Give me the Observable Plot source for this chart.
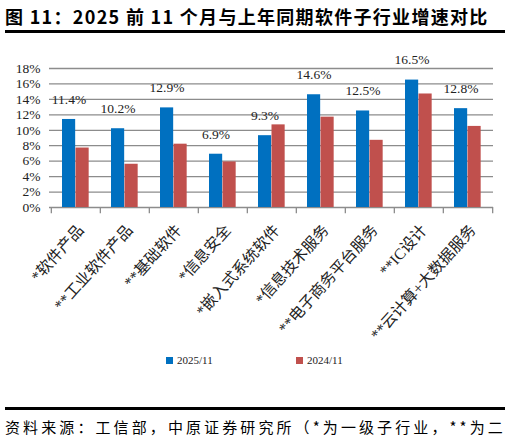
<!DOCTYPE html>
<html lang="zh">
<head>
<meta charset="UTF-8">
<script src="https://cdn.jsdelivr.net/npm/d3@7"></script>
<script src="https://cdn.jsdelivr.net/npm/@observablehq/plot@0.6"></script>
<style>
  body { margin: 0; background: #fff; width: 510px; height: 441px; overflow: hidden; }
  #titre { position: absolute; left: 5px; top: 3px; font: bold 18px "Noto Sans CJK SC", sans-serif; letter-spacing: 1.3px; color: #000; white-space: nowrap; }
  .regle { position: absolute; left: 5px; width: 500px; background: #000; }
  #graphique { position: absolute; left: 0; top: 36px; }
  #legende { position: absolute; top: 354px; left: 0; width: 510px; font: 11px "Liberation Serif", "Noto Sans CJK SC", serif; color: #222; }
  #legende span { position: absolute; white-space: nowrap; }
  #legende i { display: inline-block; width: 7px; height: 7px; margin-right: 4px; }
  #source { position: absolute; left: 5px; top: 416px; white-space: nowrap; font: 15px "Noto Sans CJK SC", sans-serif; letter-spacing: 3.1px; color: #000; }
</style>
</head>
<body>
  <div id="titre">图 11：2025 前 11 个月与上年同期软件子行业增速对比</div>
  <div class="regle" style="top:30px;height:3px"></div>
  <div id="graphique"></div>
  <div id="legende">
    <span style="left:166px"><i style="background:#0070C0"></i>2025/11</span>
    <span style="left:296px"><i style="background:#C0504D"></i>2024/11</span>
  </div>
  <div class="regle" style="top:407px;height:3px"></div>
  <div id="source">资料来源：工信部，中原证券研究所（*为一级子行业，**为二</div>
<script>
const categories = ["*软件产品", "**工业软件产品", "**基础软件", "*信息安全", "*嵌入式系统软件",
  "*信息技术服务", "**电子商务平台服务", "**IC设计", "**云计算+大数据服务"];
const croissance2025 = [11.4, 10.2, 12.9, 6.9, 9.3, 14.6, 12.5, 16.5, 12.8];
const croissance2024 = [7.7, 5.6, 8.2, 5.9, 10.7, 11.7, 8.7, 14.7, 10.5];
const yTicks = [0, 2, 4, 6, 8, 10, 12, 14, 16, 18];

const lignes = categories.map((c, i) => ({cat: c, v25: croissance2025[i], v24: croissance2024[i]}));

const largeur = 510, hauteur = 315, mg = 49, md = 17;
const bw = (largeur - mg - md) / categories.length;
const serif = "'Liberation Serif', 'Noto Sans CJK SC', serif";

const plot = Plot.plot({
  width: largeur,
  height: hauteur,
  marginLeft: mg,
  marginRight: md,
  marginTop: 32,
  marginBottom: 144,
  style: {fontFamily: serif, fontSize: "12.5px", color: "#222", background: "#fff"},
  x: {domain: categories, padding: 0, axis: null},
  y: {domain: [0, 18], axis: null},
  marks: [
    Plot.ruleY(yTicks, {stroke: "#8c8c8c", strokeWidth: 1.3}),
    Plot.ruleX([0], {frameAnchor: "left", y1: 0, y2: 18, stroke: "#8c8c8c", strokeWidth: 1.3}),
    Plot.ruleX(categories, {x: d => d, y1: 0, y2: -0.8, dx: -bw / 2, stroke: "#8c8c8c", strokeWidth: 1.3}),
    Plot.ruleX(categories.slice(-1), {x: d => d, y1: 0, y2: -0.8, dx: bw / 2, stroke: "#8c8c8c", strokeWidth: 1.3}),
    Plot.text(yTicks, {frameAnchor: "left", y: d => d, text: d => d + "%", textAnchor: "end", dx: -9, fontSize: 13.5}),
    Plot.barY(lignes, {x: "cat", y: "v25", fill: "#0070C0", insetLeft: 11, insetRight: bw - 24.5}),
    Plot.barY(lignes, {x: "cat", y: "v24", fill: "#C0504D", insetLeft: 24.5, insetRight: bw - 38}),
    Plot.text(lignes, {x: "cat", y: "v25", text: d => d.v25.toFixed(1) + "%", dx: -7, dy: -20, fontSize: 13.5, fill: "#222", letterSpacing: "1.2px"}),
    Plot.text(categories, {x: d => d, y: 0, text: d => d, rotate: -48, textAnchor: "end", dx: 5, dy: 20, fontSize: 15.5, fill: "#222", letterSpacing: "1.2px"})
  ]
});
document.querySelector("#graphique").append(plot);
</script>
</body>
</html>
